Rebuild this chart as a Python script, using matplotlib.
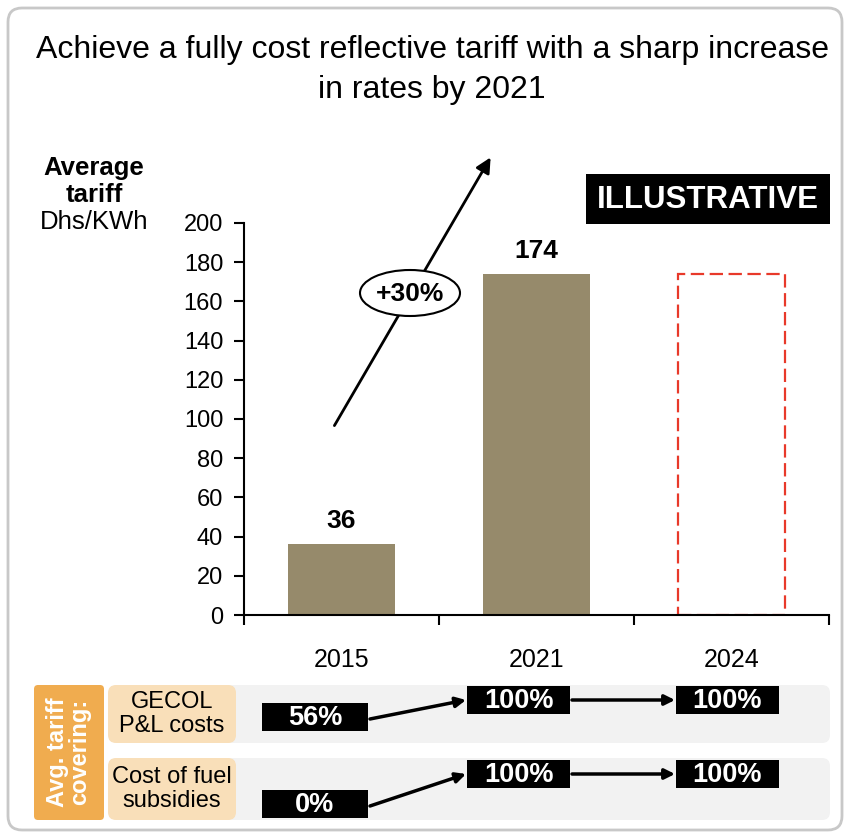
import matplotlib
matplotlib.use("Agg")
import matplotlib.pyplot as plt
from matplotlib.patches import FancyBboxPatch, Rectangle, Ellipse

plt.rcParams['font.family'] = ['Liberation Sans', 'DejaVu Sans']

years = ["2015", "2021", "2024"]
tariff = [36, 174, 174]
projected = [False, False, True]
gecol_cover = ["56%", "100%", "100%"]
fuel_cover = ["0%", "100%", "100%"]
row_labels = ["GECOL\nP&L costs", "Cost of fuel\nsubsidies"]
growth = "+30%"

W, H = 846, 834
fig = plt.figure(figsize=(W / 100, H / 100), dpi=100)

# overlay in pixel coordinates for frame, boxes and arrows
ov = fig.add_axes([0, 0, 1, 1])
ov.set_xlim(0, W)
ov.set_ylim(H, 0)
ov.axis("off")

ov.add_patch(FancyBboxPatch((8, 8), 834, 822, boxstyle="round,pad=0,rounding_size=14",
                            fc="white", ec="#c8c8c8", lw=2, zorder=0))

ov.text(432, 50, "Achieve a fully cost reflective tariff with a sharp increase",
        ha="center", va="center", fontsize=23)
ov.text(432, 90, "in rates by 2021", ha="center", va="center", fontsize=23)

ov.text(94, 168, "Average", ha="center", va="center", fontsize=18.5, fontweight="bold")
ov.text(94, 195, "tariff", ha="center", va="center", fontsize=18.5, fontweight="bold")
ov.text(94, 222, "Dhs/KWh", ha="center", va="center", fontsize=18.5)

ov.add_patch(Rectangle((586, 174), 244, 50, fc="black", ec="none", zorder=2))
ov.text(708, 200, "ILLUSTRATIVE", ha="center", va="center", fontsize=22.5,
        fontweight="bold", color="white", zorder=3)

# growth arrow with CAGR bubble
ov.annotate("", xy=(492, 155), xytext=(333, 428),
            arrowprops=dict(arrowstyle="-|>,head_length=0.9,head_width=0.45",
                            color="black", lw=2), zorder=4)
ov.add_patch(Ellipse((410, 293), 100, 46, fc="white", ec="black", lw=1.5, zorder=5))
ov.text(410, 294, growth, ha="center", va="center", fontsize=19,
        fontweight="bold", zorder=6)

# bar chart
ax = fig.add_axes([244 / W, 1 - 615 / H, 585 / W, 392 / H])
ax.set_facecolor("none")
for i, (v, p) in enumerate(zip(tariff, projected)):
    if p:
        ax.bar(i, v, width=0.55, fc="none", ec="#e8392a", lw=1.6,
               linestyle=(0, (6, 2.5)))
    else:
        ax.bar(i, v, width=0.55, color="#968a6b")
        ax.annotate(str(v), (i, v), xytext=(0, 8), textcoords="offset points",
                    ha="center", va="bottom", fontsize=19, fontweight="bold")
ax.set_xlim(-0.5, 2.5)
ax.set_ylim(0, 200)
ax.set_yticks(range(0, 201, 20))
ax.set_xticks([0, 1, 2])
ax.set_xticklabels(years)
ax.set_xticks([-0.5, 0.5, 1.5, 2.5], minor=True)
ax.tick_params(axis="x", which="major", length=0, pad=24, labelsize=18)
ax.tick_params(axis="x", which="minor", length=7, width=1.5, direction="out")
ax.tick_params(axis="y", length=7, width=1.5, direction="out", labelsize=17, pad=8)
for s in ["top", "right"]:
    ax.spines[s].set_visible(False)
ax.spines["left"].set_linewidth(1.5)
ax.spines["bottom"].set_linewidth(1.5)

# coverage panel
ov.add_patch(FancyBboxPatch((34, 685), 70, 135, boxstyle="round,pad=0,rounding_size=4",
                            fc="#f0ac4f", ec="none", zorder=1))
ov.text(69, 752, "Avg. tariff\ncovering:", rotation=90, ha="center", va="center",
        fontsize=17, fontweight="bold", color="white", linespacing=0.95, zorder=2)

rows_y = [(685, 58), (758, 62)]
for (y0, h), lab in zip(rows_y, row_labels):
    ov.add_patch(FancyBboxPatch((200, y0), 630, h, boxstyle="round,pad=0,rounding_size=8",
                                fc="#f2f2f2", ec="none", zorder=1))
    ov.add_patch(FancyBboxPatch((108, y0), 128, h, boxstyle="round,pad=0,rounding_size=8",
                                fc="#f9dfb9", ec="none", zorder=2))
    ov.text(172, y0 + h / 2, lab, ha="center", va="center", fontsize=17,
            linespacing=1.15, zorder=3)

box_x = [(262, 106), (467, 103), (676, 103)]
row_boxes_y = [[703, 686, 686], [790, 760, 760]]
for vals, ys in zip([gecol_cover, fuel_cover], row_boxes_y):
    for (x0, w), y0, txt in zip(box_x, ys, vals):
        ov.add_patch(Rectangle((x0, y0), w, 28, fc="black", ec="none", zorder=3))
        ov.text(x0 + w / 2, y0 + 15, txt, ha="center", va="center", fontsize=19.5,
                fontweight="bold", color="white", zorder=4)
    # step arrows between the boxes
    a = dict(arrowstyle="-|>,head_length=0.6,head_width=0.3", color="black", lw=2.5,
             shrinkA=0, shrinkB=0)
    ov.annotate("", xy=(box_x[1][0] - 1, ys[1] + 14), xytext=(370, ys[0] + 16),
                arrowprops=a, zorder=4)
    ov.annotate("", xy=(box_x[2][0] - 1, ys[2] + 14), xytext=(572, ys[1] + 14),
                arrowprops=a, zorder=4)

fig.savefig("out.png", dpi=100)
